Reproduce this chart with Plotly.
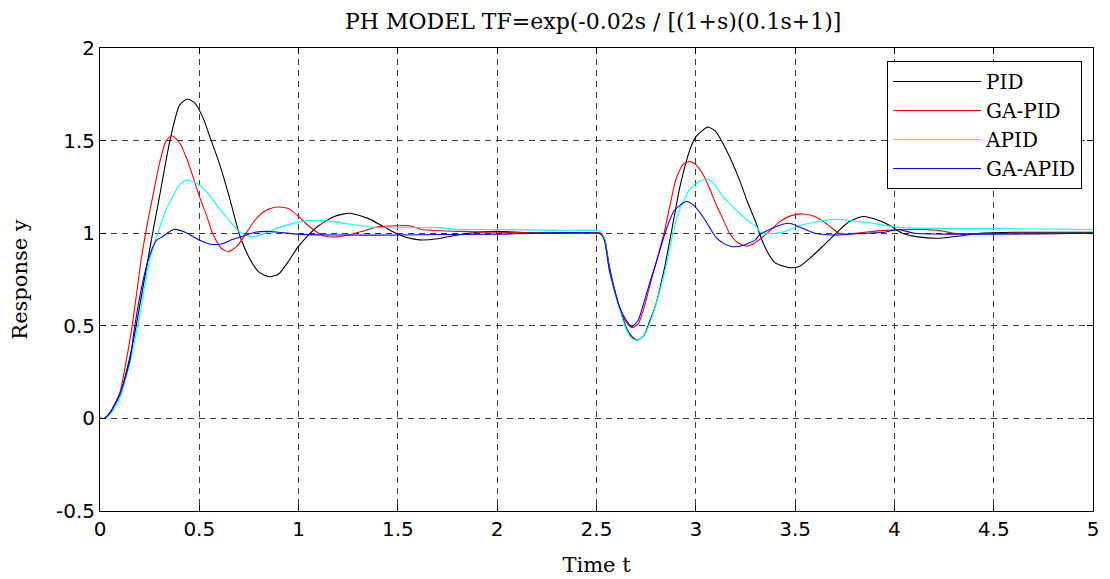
import plotly.graph_objects as go

# ---------------- data ----------------
t_pid = [0, 0.02, 0.05, 0.10, 0.15, 0.182, 0.21, 0.241, 0.27, 0.30, 0.352, 0.40, 0.44, 0.48,
         0.52, 0.56, 0.60, 0.65, 0.70, 0.75, 0.80, 0.853, 0.90, 0.95, 1.00, 1.05, 1.10, 1.18,
         1.256, 1.35, 1.42, 1.49, 1.55, 1.61, 1.70, 1.80, 1.90, 2.00, 2.20, 2.40, 2.52, 2.54,
         2.565, 2.59, 2.616, 2.65, 2.68, 2.708, 2.74, 2.77, 2.80, 2.84, 2.876, 2.92, 2.97,
         3.00, 3.06, 3.10, 3.136, 3.18, 3.22, 3.26, 3.304, 3.32, 3.36, 3.40, 3.47, 3.52,
         3.58, 3.64, 3.707, 3.77, 3.84, 3.92, 3.98, 4.04, 4.12, 4.227, 4.33, 4.43, 4.60, 5.00]
y_pid = [0, 0, 0.03, 0.13, 0.33, 0.50, 0.67, 0.856, 1.03, 1.20, 1.50, 1.69, 1.725, 1.70,
         1.62, 1.50, 1.38, 1.20, 1.00, 0.87, 0.79, 0.765, 0.78, 0.85, 0.93, 0.99, 1.04, 1.09,
         1.108, 1.08, 1.04, 1.00, 0.975, 0.964, 0.97, 0.99, 1.005, 1.01, 1.00, 1.00, 1.00, 0.97,
         0.82, 0.70, 0.60, 0.49, 0.44, 0.423, 0.45, 0.53, 0.62, 0.80, 1.00, 1.25, 1.45,
         1.52, 1.573, 1.55, 1.486, 1.39, 1.288, 1.17, 1.054, 1.00, 0.90, 0.84, 0.814, 0.82,
         0.87, 0.93, 1.00, 1.06, 1.09, 1.07, 1.04, 1.00, 0.98, 0.973, 0.985, 1.00, 1.005, 1.005]

t_gapid = [0, 0.02, 0.05, 0.10, 0.13, 0.162, 0.19, 0.207, 0.24, 0.266, 0.30, 0.333, 0.363,
           0.40, 0.436, 0.47, 0.50, 0.535, 0.567, 0.61, 0.645, 0.69, 0.736, 0.78, 0.83, 0.88,
           0.92, 0.955, 1.00, 1.05, 1.10, 1.13, 1.19, 1.25, 1.32, 1.40, 1.50, 1.56, 1.62, 1.80,
           2.00, 2.40, 2.52, 2.54, 2.565, 2.616, 2.65, 2.68, 2.71, 2.74, 2.767, 2.80, 2.84,
           2.868, 2.90, 2.935, 2.968, 3.00, 3.035, 3.07, 3.10, 3.135, 3.17, 3.21, 3.255,
           3.30, 3.36, 3.42, 3.48, 3.54, 3.60, 3.66, 3.72, 3.77, 3.85, 3.95, 4.10, 4.22,
           4.30, 5.00]
y_gapid = [0, 0, 0.03, 0.14, 0.30, 0.50, 0.72, 0.856, 1.06, 1.20, 1.38, 1.50, 1.526,
           1.49, 1.405, 1.30, 1.20, 1.10, 1.00, 0.92, 0.90, 0.93, 1.00, 1.07, 1.12, 1.14,
           1.14, 1.13, 1.09, 1.04, 1.00, 0.985, 0.98, 0.99, 1.01, 1.035, 1.04, 1.04, 1.02, 1.01,
           1.005, 1.00, 1.00, 0.97, 0.80, 0.60, 0.52, 0.49, 0.51, 0.60, 0.71, 0.84, 1.00,
           1.14, 1.29, 1.37, 1.387, 1.37, 1.32, 1.24, 1.16, 1.08, 1.00, 0.95, 0.93,
           0.95, 1.00, 1.06, 1.095, 1.104, 1.09, 1.05, 1.00, 0.996, 1.005, 1.015, 1.02, 1.015,
           1.00, 1.00]

t_apid = [0, 0.02, 0.05, 0.10, 0.15, 0.19, 0.22, 0.25, 0.291, 0.33, 0.367, 0.40, 0.437,
          0.50, 0.55, 0.60, 0.65, 0.70, 0.76, 0.82, 0.90, 1.00, 1.08, 1.15, 1.25, 1.40, 1.70,
          1.80, 2.00, 2.30, 2.52, 2.54, 2.565, 2.616, 2.65, 2.68, 2.708, 2.74, 2.77, 2.80,
          2.85, 2.885, 2.918, 2.968, 3.01, 3.052, 3.09, 3.136, 3.18, 3.22, 3.26, 3.304,
          3.33, 3.40, 3.45, 3.51, 3.58, 3.64, 3.71, 3.80, 3.89, 4.03, 4.50, 5.00]
y_apid = [0, 0, 0.02, 0.11, 0.30, 0.50, 0.68, 0.856, 1.00, 1.12, 1.20, 1.26, 1.288,
          1.26, 1.207, 1.135, 1.07, 1.01, 0.98, 0.995, 1.03, 1.06, 1.07, 1.065, 1.05, 1.03, 1.03,
          1.02, 1.02, 1.015, 1.01, 0.97, 0.80, 0.59, 0.48, 0.43, 0.423, 0.45, 0.52, 0.62,
          0.82, 1.00, 1.126, 1.234, 1.275, 1.294, 1.27, 1.198, 1.15, 1.108, 1.07, 1.036,
          1.00, 1.00, 1.01, 1.036, 1.055, 1.068, 1.075, 1.065, 1.054, 1.03, 1.025, 1.02]

t_gaapid = [0, 0.02, 0.05, 0.10, 0.15, 0.175, 0.22, 0.25, 0.283, 0.316, 0.37, 0.434,
            0.497, 0.551, 0.61, 0.669, 0.736, 0.78, 0.84, 0.90, 1.00, 1.20, 1.50, 2.00, 2.52,
            2.54, 2.565, 2.616, 2.65, 2.678, 2.71, 2.74, 2.77, 2.80, 2.845, 2.89, 2.952,
            2.99, 3.035, 3.07, 3.10, 3.14, 3.186, 3.24, 3.30, 3.32, 3.39, 3.47, 3.53, 3.60,
            3.71, 3.85, 3.95, 4.02, 4.10, 5.00]
y_gaapid = [0, 0, 0.03, 0.13, 0.31, 0.50, 0.76, 0.88, 0.96, 0.982, 1.02, 1.003,
            0.964, 0.942, 0.942, 0.967, 0.99, 1.005, 1.01, 1.005, 0.995, 0.99, 0.99, 0.995, 0.995,
            0.96, 0.80, 0.60, 0.53, 0.495, 0.53, 0.63, 0.74, 0.84, 1.00, 1.12, 1.171,
            1.15, 1.09, 1.03, 0.98, 0.945, 0.927, 0.935, 0.964, 0.99, 1.03, 1.054, 1.03, 1.00,
            0.99, 1.00, 1.005, 1.02, 1.00, 1.00]

series_names = ["PID", "GA-PID", "APID", "GA-APID"]
series_colors = ["#000000", "#ff0000", "#00ffff", "#0000ff"]

x_tickvals = [0, 0.5, 1, 1.5, 2, 2.5, 3, 3.5, 4, 4.5, 5]
x_ticktext = ["0", "0.5", "1", "1.5", "2", "2.5", "3", "3.5", "4", "4.5", "5"]
y_tickvals = [-0.5, 0, 0.5, 1, 1.5, 2]
y_ticktext = ["-0.5", "0", "0.5", "1", "1.5", "2"]

title_text = "PH MODEL TF=exp(-0.02s / [(1+s)(0.1s+1)]"
x_title = "Time t"
y_title = "Response y"

# ---------------- figure ----------------
SERIF = "DejaVu Serif, Liberation Serif, serif"
SANS = "DejaVu Sans, Liberation Sans, sans-serif"

fig = go.Figure()
for (tx, ty), name, col in zip([(t_pid, y_pid), (t_gapid, y_gapid), (t_apid, y_apid), (t_gaapid, y_gaapid)],
                               series_names, series_colors):
    fig.add_trace(go.Scatter(x=tx, y=ty, mode="lines", name=name,
                             line=dict(color=col, width=1.1, shape="spline", smoothing=0.6)))

axis_common = dict(showline=True, linecolor="black", linewidth=1, mirror="ticks",
                   ticks="inside", ticklen=6, tickcolor="black", tickwidth=1,
                   showgrid=True, gridcolor="#3a3a3a", gridwidth=1, griddash="6px,5px",
                   zeroline=False, automargin=False,
                   tickfont=dict(family=SANS, size=20, color="black"))

fig.update_xaxes(range=[0, 5], tickvals=x_tickvals, ticktext=x_ticktext,
                 title=dict(text=x_title, font=dict(family=SERIF, size=21, color="black"), standoff=17),
                 **axis_common)
fig.update_yaxes(range=[-0.5, 2], tickvals=y_tickvals, ticktext=y_ticktext,
                 title=dict(text=y_title, font=dict(family=SERIF, size=21, color="black"), standoff=24),
                 **axis_common)

# page body has an 8px margin, so the figure is 8px smaller and margins shifted
fig.update_layout(
    width=1102, height=571,
    margin=dict(l=92, r=17, t=40, b=68, autoexpand=False),
    paper_bgcolor="white", plot_bgcolor="white",
    title=dict(text=title_text, x=0.531, xanchor="center", y=0.977, yanchor="middle",
               font=dict(family=SERIF, size=22, color="black")),
    legend=dict(x=0.989, xanchor="right", y=0.972, yanchor="top",
                bgcolor="white", bordercolor="black", borderwidth=1,
                font=dict(family=SERIF, size=20, color="black"),
                itemwidth=88, tracegroupgap=0),
    showlegend=True,
)

fig.write_html("out.html")
